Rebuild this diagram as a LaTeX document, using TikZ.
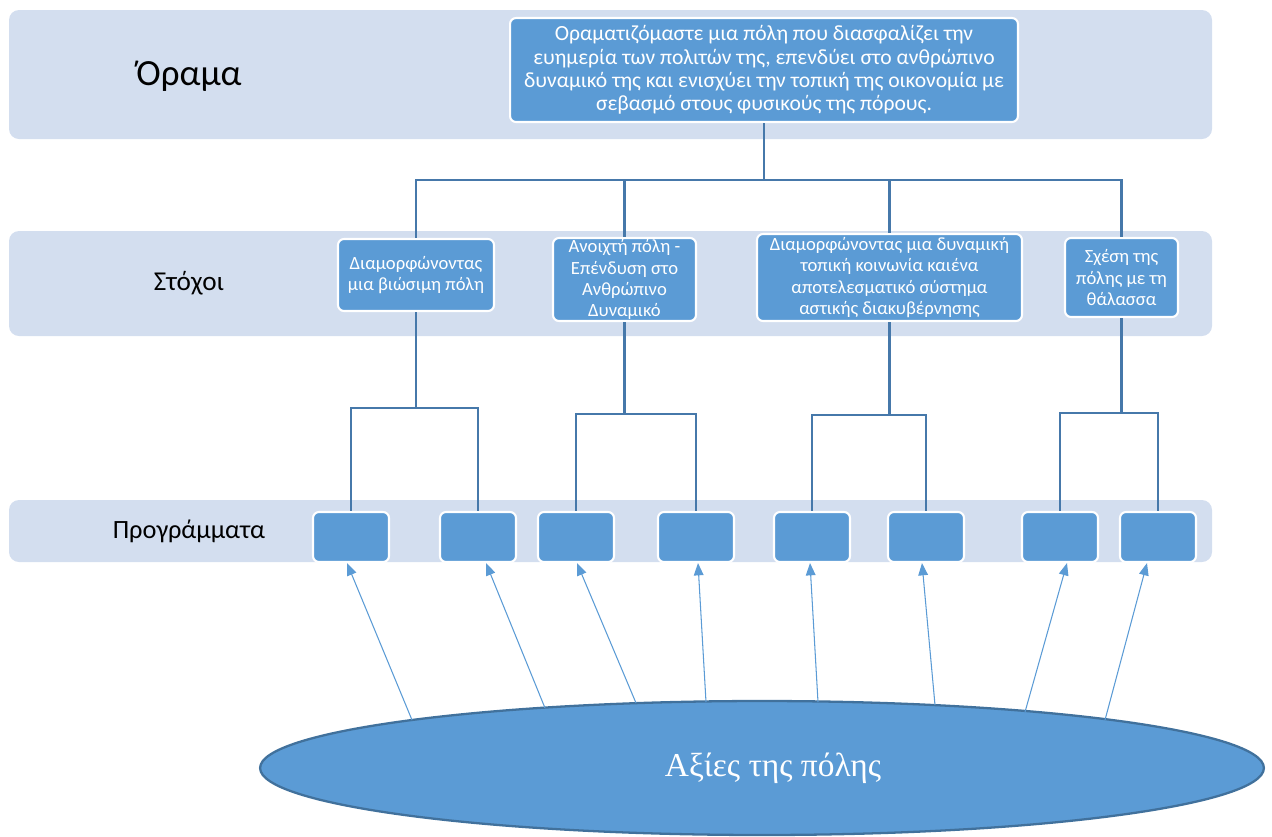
\documentclass[tikz,border=0pt]{standalone}
\usepackage{fontspec}
\setmainfont{Carlito}
\newfontfamily\serifgr{Liberation Serif}
\usetikzlibrary{shapes.geometric,arrows.meta}
\definecolor{bandfill}{RGB}{211,222,239}
\definecolor{boxfill}{RGB}{91,155,213}
\definecolor{connc}{RGB}{70,120,170}
\definecolor{ellborder}{RGB}{65,113,156}
\tikzset{
  band/.style={fill=bandfill, draw=none, rounded corners=0.2cm},
  bluebox/.style={fill=boxfill, draw=white, line width=1.2pt, rounded corners=0.12cm,
    text=white, align=center, inner sep=1pt},
  goalbox/.style={bluebox, font=\fontsize{10.6}{12}\selectfont},
  progbox/.style={bluebox, minimum width=1.52cm, minimum height=1.0cm},
  conn/.style={draw=connc, line width=1.5pt},
  valarrow/.style={draw=boxfill, line width=0.6pt, -{Triangle[length=7pt,width=5.5pt]}},
  bandlabel/.style={text=black, inner sep=0pt}
}
\begin{document}
\begin{tikzpicture}[x=0.02cm, y=-0.02cm]
\useasboundingbox (0,0) rectangle (1272,836);
% bands
\path[band] (9,10) rectangle (1212,139);
\path[band] (9,231) rectangle (1212,336);
\path[band] (9,500) rectangle (1212,562);
% band labels
\node[bandlabel, font=\fontsize{21}{25}\selectfont] (lbl1) at (189,76) {Όραμα};
\node[bandlabel, font=\fontsize{15.5}{18}\selectfont] (lbl2) at (189,283) {Στόχοι};
\node[bandlabel, font=\fontsize{15}{18}\selectfont] (lbl3) at (189,531) {Προγράμματα};
% vision
\node[bluebox, minimum width=10.16cm, minimum height=2.08cm, font=\fontsize{12.3}{13.3}\selectfont] (vision) at (764,70)
 {Οραματιζόμαστε μια πόλη που διασφαλίζει την\\ευημερία των πολιτών της, επενδύει στο ανθρώπινο\\δυναμικό της και ενισχύει την τοπική της οικονομία με\\σεβασμό στους φυσικούς της πόρους.};
% goals
\node[goalbox, minimum width=3.12cm, minimum height=1.44cm] (g1) at (416,275) {Διαμορφώνοντας\\μια βιώσιμη πόλη};
\node[goalbox, minimum width=2.86cm, minimum height=1.66cm] (g2) at (624.5,279.5) {Ανοιχτή πόλη -\\Επένδυση στο\\Ανθρώπινο\\Δυναμικό};
\node[goalbox, minimum width=5.3cm, minimum height=1.74cm] (g3) at (889.5,277.5) {Διαμορφώνοντας μια δυναμική\\τοπική κοινωνία καιένα\\αποτελεσματικό σύστημα\\αστικής διακυβέρνησης};
\node[goalbox, minimum width=2.26cm, minimum height=1.58cm] (g4) at (1121.5,277.5) {Σχέση της\\πόλης με τη\\θάλασσα};
% programmes
\node[progbox] (p1) at (351,537) {};
\node[progbox] (p2) at (478,537) {};
\node[progbox] (p3) at (576,537) {};
\node[progbox] (p4) at (696,537) {};
\node[progbox] (p5) at (812,537) {};
\node[progbox] (p6) at (926,537) {};
\node[progbox] (p7) at (1060,537) {};
\node[progbox] (p8) at (1158,537) {};
% tree connectors (top)
\coordinate (hub) at (764,180);
\draw[conn] (vision.south) -- (hub);
\draw[conn] (hub) -| (g1.north);
\draw[conn] (hub) -| (g2.north);
\draw[conn] (hub) -| (g3.north);
\draw[conn] (hub) -| (g4.north);
% tree connectors (bottom)
\coordinate (b1) at (416,408);
\coordinate (b2) at (624.5,414);
\coordinate (b3) at (889.5,415);
\coordinate (b4) at (1121.5,413);
\draw[conn] (g1.south) -- (b1);
\draw[conn] (b1) -| (p1.north);
\draw[conn] (b1) -| (p2.north);
\draw[conn] (g2.south) -- (b2);
\draw[conn] (b2) -| (p3.north);
\draw[conn] (b2) -| (p4.north);
\draw[conn] (g3.south) -- (b3);
\draw[conn] (b3) -| (p5.north);
\draw[conn] (b3) -| (p6.north);
\draw[conn] (g4.south) -- (b4);
\draw[conn] (b4) -| (p7.north);
\draw[conn] (b4) -| (p8.north);
% values ellipse
\node[ellipse, fill=boxfill, draw=ellborder, line width=1.3pt, minimum width=20.08cm, minimum height=2.68cm, inner sep=0pt] (values) at (762,768) {};
\node[text=white, font=\serifgr\fontsize{19}{23}\selectfont, inner sep=0pt] (valtext) at (773,768) {Αξίες της πόλης};
% arrows from values to programmes
\coordinate (a1) at (412,720);
\coordinate (a2) at (545,708);
\coordinate (a3) at (636,703);
\coordinate (a4) at (706,702);
\coordinate (a5) at (818,702);
\coordinate (a6) at (935,705);
\coordinate (a7) at (1025,712);
\coordinate (a8) at (1105,720);
\draw[valarrow] (a1) -- ([xshift=-0.08cm]p1.south);
\draw[valarrow] (a2) -- ([xshift=0.16cm]p2.south);
\draw[valarrow] (a3) -- ([xshift=0.02cm]p3.south);
\draw[valarrow] (a4) -- ([xshift=0.04cm]p4.south);
\draw[valarrow] (a5) -- ([xshift=-0.04cm]p5.south);
\draw[valarrow] (a6) -- ([xshift=-0.08cm]p6.south);
\draw[valarrow] (a7) -- ([xshift=0.14cm]p7.south);
\draw[valarrow] (a8) -- ([xshift=-0.22cm]p8.south);
\end{tikzpicture}
\end{document}
